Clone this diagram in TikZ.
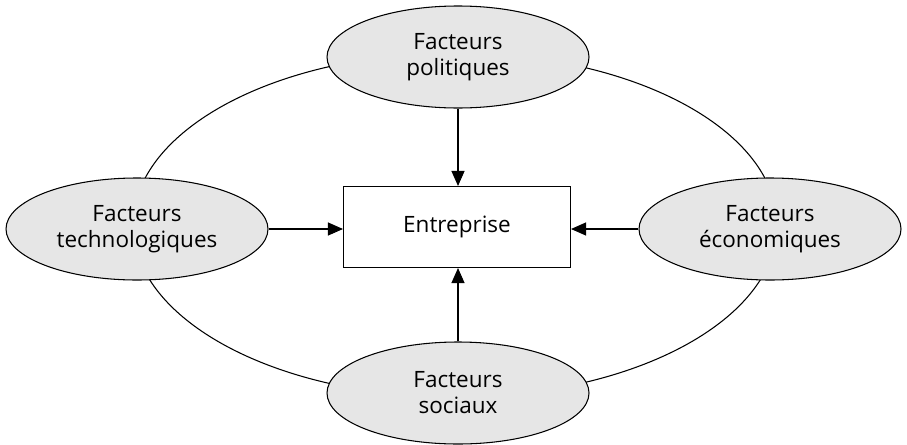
\documentclass[tikz,border=0pt]{standalone}
\usepackage{fontspec}
\setmainfont{Open Sans}
\usetikzlibrary{arrows.meta, shapes.geometric, backgrounds}
\definecolor{factc}{RGB}{230,230,230}
\definecolor{inkc}{RGB}{0,0,0}
\tikzset{
  factor/.style={
    ellipse, draw=inkc, line width=0.6pt, fill=factc,
    minimum width=5.24cm, minimum height=2.04cm, inner sep=0pt,
    align=center, font=\fontsize{12.8}{14.8}\selectfont, text=inkc
  },
  firm/.style={
    rectangle, draw=inkc, line width=0.6pt, fill=white,
    minimum width=4.54cm, minimum height=1.62cm,
    font=\fontsize{12.8}{14.8}\selectfont, text=inkc
  },
  ring/.style={ellipse, draw=inkc, line width=0.6pt,
               minimum width=12.88cm, minimum height=6.88cm, inner sep=0pt},
  arr/.style={-{Triangle[length=3mm, width=2.6mm]}, line width=0.6pt, draw=inkc},
}

\begin{document}
\begin{tikzpicture}

  \useasboundingbox (0,0) rectangle (18.14,8.88);

  \node[firm] (ent) at (9.14,4.34) {Entreprise};

  \node[factor] (pol) at (9.16,7.74) {Facteurs\\politiques};
  \node[factor] (tec) at (2.74,4.30) {Facteurs\\technologiques};
  \node[factor] (eco) at (15.40,4.30) {Facteurs\\économiques};
  \node[factor] (soc) at (9.16,1.02) {Facteurs\\sociaux};

  % the ring linking the four factors sits behind them
  \begin{scope}[on background layer]
    \node[ring] (env) at (9.10,4.38) {};
  \end{scope}

  \draw[arr] (pol.south) -- (ent.north -| pol.south);
  \draw[arr] (tec.east) -- (ent.west |- tec.east);
  \draw[arr] (eco.west) -- (ent.east |- eco.west);
  \draw[arr] (soc.north) -- (ent.south -| soc.north);

\end{tikzpicture}
\end{document}
